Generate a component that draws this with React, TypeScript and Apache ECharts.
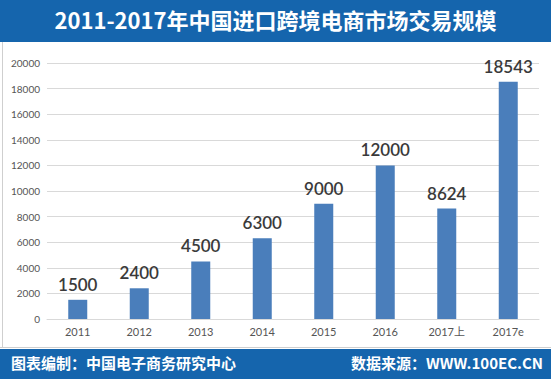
import React, { useEffect, useRef } from "react";
import * as echarts from "echarts";

const categories = ["2011", "2012", "2013", "2014", "2015", "2016", "2017上", "2017e"];
const values = [1500, 2400, 4500, 6300, 9000, 12000, 8624, 18543];
const titleText = "2011-2017年中国进口跨境电商市场交易规模";
const footerLeft = "图表编制：中国电子商务研究中心";
const footerRight = "数据来源：WWW.100EC.CN";

export default function App() {
  const ref = useRef<HTMLDivElement>(null);
  useEffect(() => {
    if (!ref.current) return;
    const chart = echarts.init(ref.current, undefined, { renderer: "svg" });
    const blue = "#1565ad";
    chart.setOption({
      animation: false,
      backgroundColor: "#ffffff",
      grid: { left: 47, right: 12, top: 63, bottom: 60, containLabel: false },
      xAxis: {
        type: "category",
        data: categories,
        axisLine: { lineStyle: { color: "#d9d9d9" } },
        axisTick: { show: false },
        axisLabel: {
          color: "#555555",
          fontSize: 11,
          fontFamily: "Lato, 'Noto Sans CJK SC', sans-serif",
          margin: 7,
        },
      },
      yAxis: {
        type: "value",
        min: 0,
        max: 20000,
        interval: 2000,
        axisLine: { show: false },
        axisTick: { show: false },
        splitLine: { lineStyle: { color: "#d9d9d9" } },
        axisLabel: {
          color: "#555555",
          fontSize: 10,
          fontFamily: "Lato, sans-serif",
          margin: 7,
          formatter: (v: number) => String(v),
        },
      },
      series: [
        {
          type: "bar",
          data: values,
          barWidth: 19,
          itemStyle: { color: "#4a7ebb" },
          label: {
            show: true,
            position: "top",
            distance: 7,
            color: "#3a3a3a",
            fontSize: 17,
            fontWeight: 600,
            fontFamily: "Lato, sans-serif",
          },
        },
      ],
      graphic: [
        { type: "rect", left: 0, top: 0, shape: { width: 551, height: 42 }, style: { fill: blue }, z: 10 },
        {
          type: "text",
          left: "center",
          top: 8,
          style: {
            text: titleText,
            fill: "#ffffff",
            fontSize: 22,
            fontWeight: "bold",
            fontFamily: "'Noto Sans CJK SC', sans-serif",
          },
          z: 11,
        },
        { type: "line", shape: { x1: 2.5, y1: 42, x2: 2.5, y2: 347 }, style: { stroke: "#cfcfcf", lineWidth: 1 }, z: 10 },
        { type: "line", shape: { x1: 0, y1: 347.5, x2: 551, y2: 347.5 }, style: { stroke: "#cfcfcf", lineWidth: 1 }, z: 10 },
        { type: "rect", left: 0, top: 349, shape: { width: 551, height: 30 }, style: { fill: blue }, z: 10 },
        {
          type: "text",
          left: 11,
          top: 355,
          style: {
            text: footerLeft,
            fill: "#ffffff",
            fontSize: 15,
            fontWeight: "bold",
            fontFamily: "'Noto Sans CJK SC', sans-serif",
          },
          z: 11,
        },
        {
          type: "text",
          right: 8,
          top: 355,
          style: {
            text: footerRight,
            fill: "#ffffff",
            fontSize: 15,
            fontWeight: "bold",
            fontFamily: "'Noto Sans CJK SC', sans-serif",
          },
          z: 11,
        },
      ],
    });
    return () => chart.dispose();
  }, []);
  return (
    <div style={{ position: "fixed", left: 0, top: 0 }}>
      <div ref={ref} style={{ width: 551, height: 379 }} />
    </div>
  );
}
